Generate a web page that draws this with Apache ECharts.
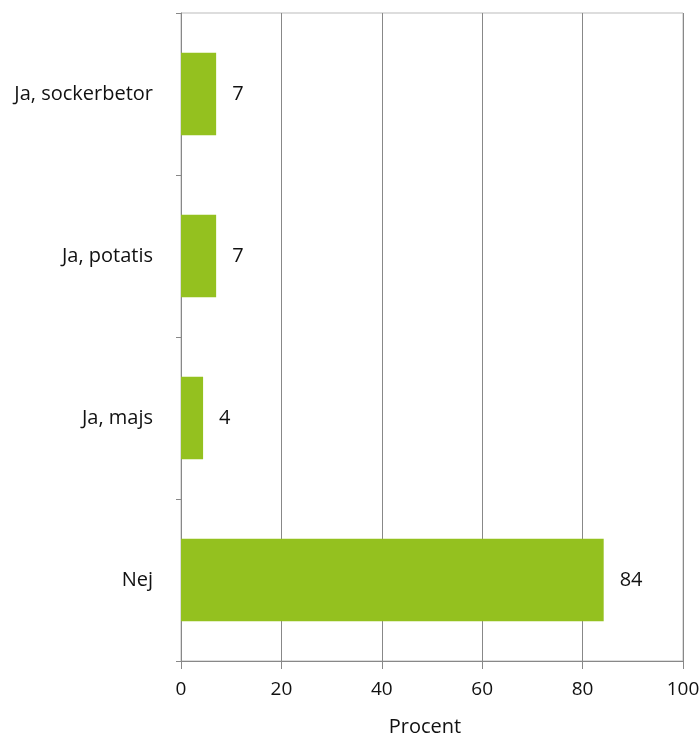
<!DOCTYPE html>
<html><head><meta charset="utf-8">
<script src="https://cdn.jsdelivr.net/npm/echarts@6/dist/echarts.min.js"></script>
<style>html,body{margin:0;padding:0;background:#fff}#c{width:700px;height:737px}</style>
</head><body><div id="c"></div>
<script>
const categories = ["Nej", "Ja, majs", "Ja, potatis", "Ja, sockerbetor"];
const values = [84.2, 4.4, 7, 7];
const valueLabels = ["84", "4", "7", "7"];
const xTicks = [0, 20, 40, 60, 80, 100];
const xTitle = "Procent";

const font = "'Open Sans', 'Noto Sans', sans-serif";
const chart = echarts.init(document.getElementById('c'), null, {renderer: 'canvas'});
chart.setOption({
  animation: false,
  grid: {left: 181, right: 17, top: 13, bottom: 76, show: true, borderColor: '#bbbbbb', borderWidth: 1,
    containLabel: false, outerBoundsMode: 'none'},
  xAxis: {
    type: 'value', min: xTicks[0], max: xTicks[xTicks.length - 1], interval: 20,
    name: xTitle, nameLocation: 'middle', nameGap: 56,
    nameTextStyle: {fontFamily: font, fontSize: 20, color: '#111', padding: [0, 14, 0, 0]},
    axisLine: {show: true, lineStyle: {color: '#888', width: 1}},
    axisTick: {show: true, length: 8, lineStyle: {color: '#888'}},
    axisLabel: {fontFamily: font, fontSize: 19, color: '#111', margin: 19},
    splitLine: {show: true, lineStyle: {color: '#888', width: 1}}
  },
  yAxis: {
    type: 'category', data: categories,
    axisLine: {show: true, lineStyle: {color: '#888', width: 1}},
    axisTick: {show: true, length: 5, lineStyle: {color: '#888'}},
    axisLabel: {fontFamily: font, fontSize: 20, color: '#111', margin: 28}
  },
  series: [{
    type: 'bar', data: values, barWidth: '51%',
    itemStyle: {color: '#94c11f'},
    label: {show: true, position: 'right', distance: 16, fontFamily: font, fontSize: 20, color: '#111',
      formatter: p => valueLabels[p.dataIndex]}
  }]
});
</script></body></html>
